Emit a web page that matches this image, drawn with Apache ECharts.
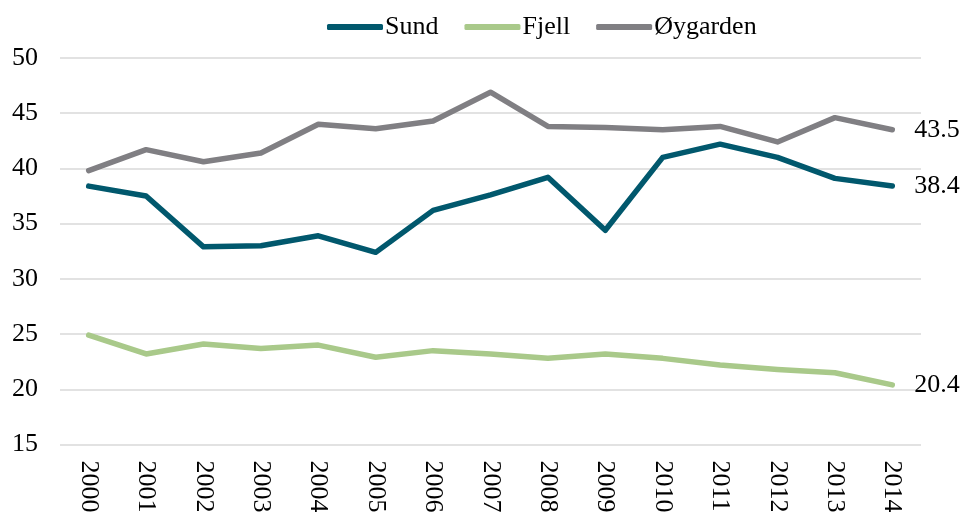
<!DOCTYPE html>
<html>
<head>
<meta charset="utf-8">
<script src="https://cdn.jsdelivr.net/npm/echarts@6/dist/echarts.min.js"></script>
<style>html,body{margin:0;padding:0;background:#fff;}#c{width:963px;height:513px;}</style>
</head>
<body>
<div id="c"></div>
<script>
var years = ['2000','2001','2002','2003','2004','2005','2006','2007','2008','2009','2010','2011','2012','2013','2014'];
var sund = [38.4, 37.5, 32.9, 33.0, 33.9, 32.4, 36.2, 37.6, 39.2, 34.4, 41.0, 42.2, 41.0, 39.1, 38.4];
var fjell = [24.9, 23.2, 24.1, 23.7, 24.0, 22.9, 23.5, 23.2, 22.8, 23.2, 22.8, 22.2, 21.8, 21.5, 20.4];
var oygarden = [39.8, 41.7, 40.6, 41.4, 44.0, 43.6, 44.3, 46.9, 43.8, 43.7, 43.5, 43.8, 42.4, 44.6, 43.5];
var yTicks = [15, 20, 25, 30, 35, 40, 45, 50];

var font = '"Liberation Serif", "DejaVu Serif", serif';
function mk(name, data, color) {
  return {
    name: name, type: 'line', data: data, symbol: 'none',
    lineStyle: { width: 5.5, color: color, cap: 'round', join: 'round' },
    itemStyle: { color: color },
    endLabel: {
      show: true, distance: 22, color: '#000', fontFamily: font, fontSize: 26,
      formatter: function (p) { return p.value.toFixed(1); }
    }
  };
}
var chart = echarts.init(document.getElementById('c'));
chart.setOption({
  animation: false,
  legend: {
    top: 9, left: 322, itemWidth: 56, itemHeight: 6, itemGap: 26,
    icon: 'roundRect',
    textStyle: { fontFamily: font, fontSize: 26, color: '#000', padding: [0, 0, 0, -3] },
    data: ['Sund', 'Fjell', 'Øygarden']
  },
  grid: { left: 60, right: 42, top: 58, bottom: 68.5, containLabel: false, outerBoundsMode: 'none' },
  xAxis: {
    type: 'category', data: years, boundaryGap: true,
    axisLine: { show: false }, axisTick: { show: false },
    axisLabel: { rotate: -90, margin: 16, fontFamily: font, fontSize: 26, color: '#000' }
  },
  yAxis: {
    type: 'value', min: yTicks[0], max: yTicks[yTicks.length - 1], interval: 5,
    axisLine: { show: false }, axisTick: { show: false },
    axisLabel: { margin: 22, fontFamily: font, fontSize: 26, color: '#000' },
    splitLine: { lineStyle: { color: '#d9d9d9', width: 1.5 } }
  },
  series: [
    mk('Sund', sund, '#01586d'),
    mk('Fjell', fjell, '#a9c98a'),
    mk('Øygarden', oygarden, '#807f83')
  ]
});
</script>
</body>
</html>
